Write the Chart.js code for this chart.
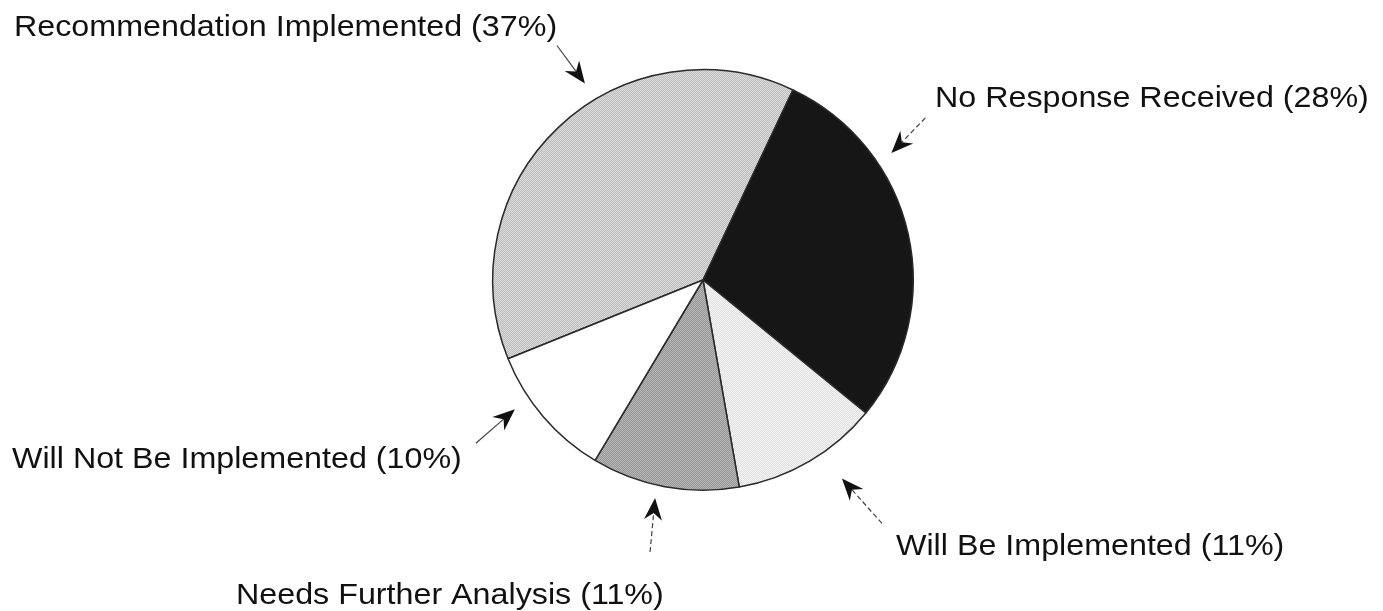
<!DOCTYPE html>
<html>
<head>
<meta charset="utf-8">
<script src="https://cdn.jsdelivr.net/npm/chart.js@4/dist/chart.umd.min.js"></script>
<style>
  html, body { margin: 0; padding: 0; background: #fff; }
  #wrap { width: 1383px; height: 611px; }
</style>
</head>
<body>
<div id="wrap"><canvas id="responseChart"></canvas></div>
<script>
const categories = [
    'Recommendation Implemented',
    'No Response Received',
    'Will Be Implemented',
    'Needs Further Analysis',
    'Will Not Be Implemented'
];
const percentages = [37, 28, 11, 11, 10];

// two-tone fills, laid down as a fine checker to look like halftone shading
const sliceTones = [
    ['#bebebe', '#dadada'],
    ['#141414', '#181818'],
    ['#e0e0e0', '#f5f5f5'],
    ['#979797', '#b6b6b6'],
    ['#ffffff', '#ffffff']
];

// callout placement: arrow tip angle (deg clockwise from top) and gap past the rim,
// tail offset from the tip, text baseline offset from the pie centre
const callouts = [
    { tipAngle: -31,   tipGap: 19, tail: [-28, -38], text: [-689, -244], dashed: false },
    { tipAngle: 56,    tipGap: 17, tail: [34, -35],  text: [232, -173],  dashed: true },
    { tipAngle: 145,   tipGap: 32, tail: [40, 45],   text: [193, 275],   dashed: true },
    { tipAngle: 192.4, tipGap: 13, tail: [-5, 54],   text: [-467, 324],  dashed: true },
    { tipAngle: 235.5, tipGap: 18, tail: [-39, 34],  text: [-691, 188],  dashed: false }
];

const ctx = document.getElementById('responseChart').getContext('2d');

function halftone(pair) {
    const c = document.createElement('canvas');
    c.width = 2; c.height = 2;
    const g = c.getContext('2d');
    g.fillStyle = pair[0]; g.fillRect(0, 0, 2, 2);
    g.fillStyle = pair[1]; g.fillRect(0, 0, 1, 1); g.fillRect(1, 1, 1, 1);
    return ctx.createPattern(c, 'repeat');
}

function drawArrow(g, tail, tip, dashed) {
    const dx = tip[0] - tail[0], dy = tip[1] - tail[1];
    const len = Math.hypot(dx, dy);
    const ux = dx / len, uy = dy / len;
    const nx = -uy, ny = ux;
    const headLen = 22, halfW = 9, notch = 7;
    const backX = tip[0] - ux * (headLen - notch), backY = tip[1] - uy * (headLen - notch);

    g.save();
    g.strokeStyle = '#444';
    g.lineWidth = 1.2;
    if (dashed) g.setLineDash([5, 3]);
    g.beginPath();
    g.moveTo(tail[0], tail[1]);
    g.lineTo(backX, backY);
    g.stroke();
    g.setLineDash([]);

    g.fillStyle = '#111';
    g.beginPath();
    g.moveTo(tip[0], tip[1]);
    g.lineTo(tip[0] - ux * headLen + nx * halfW, tip[1] - uy * headLen + ny * halfW);
    g.lineTo(backX, backY);
    g.lineTo(tip[0] - ux * headLen - nx * halfW, tip[1] - uy * headLen - ny * halfW);
    g.closePath();
    g.fill();
    g.restore();
}

const calloutPlugin = {
    id: 'callouts',
    afterDraw(chart) {
        const arc = chart.getDatasetMeta(0).data[0];
        if (!arc) return;
        const cx = arc.x, cy = arc.y, r = arc.outerRadius;
        const g = chart.ctx;

        callouts.forEach((c, i) => {
            const a = c.tipAngle * Math.PI / 180;
            const tip = [cx + Math.sin(a) * (r + c.tipGap), cy - Math.cos(a) * (r + c.tipGap)];
            const tail = [tip[0] + c.tail[0], tip[1] + c.tail[1]];
            drawArrow(g, tail, tip, c.dashed);

            // the lettering is a touch wider than plain Arial, so stretch it sideways
            g.save();
            g.translate(cx + c.text[0], cy + c.text[1]);
            g.scale(1.075, 1);
            g.font = '30px "Liberation Sans", Arial, Helvetica, sans-serif';
            g.fillStyle = '#111';
            g.textAlign = 'left';
            g.textBaseline = 'alphabetic';
            g.fillText(categories[i] + ' (' + percentages[i] + '%)', 0, 0);
            g.restore();
        });
    }
};

const responseChart = new Chart(ctx, {
    type: 'pie',
    data: {
        labels: categories,
        datasets: [{
            data: percentages,
            backgroundColor: sliceTones.map(halftone),
            borderColor: '#2a2a2a',
            borderWidth: 1.5,
            hoverOffset: 0
        }]
    },
    options: {
        responsive: true,
        maintainAspectRatio: false,
        animation: false,
        rotation: -112,
        layout: {
            padding: { top: 69, bottom: 120, left: 23, right: 0 }
        },
        plugins: {
            legend: { display: false },
            tooltip: { enabled: false }
        }
    },
    plugins: [calloutPlugin]
});
</script>
</body>
</html>
